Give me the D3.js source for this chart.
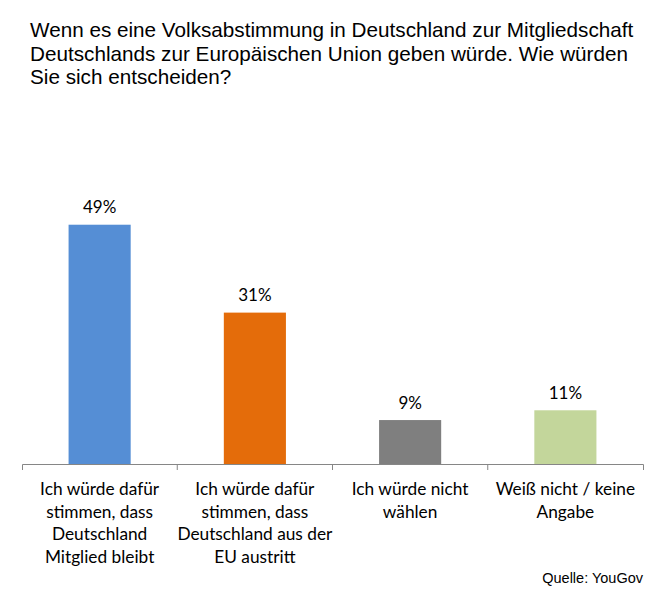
<!DOCTYPE html>
<html>
<head>
<meta charset="utf-8">
<script src="https://d3js.org/d3.v7.min.js"></script>
<style>
  body { margin: 0; background: #fff; }
</style>
</head>
<body>
<div id="output"></div>
<script>
    var width = 664;
    var height = 608;

    // data
    var categories = ['mitglied', 'austritt', 'nichtwaehlen', 'weissnicht'];
    var values = [49, 31, 9, 11];
    var valueLabels = ['49%', '31%', '9%', '11%'];
    var categoryLabels = [
        ['Ich würde dafür', 'stimmen, dass', 'Deutschland', 'Mitglied bleibt'],
        ['Ich würde dafür', 'stimmen, dass', 'Deutschland aus der', 'EU austritt'],
        ['Ich würde nicht', 'wählen'],
        ['Weiß nicht / keine', 'Angabe']
    ];
    var titleLines = [
        'Wenn es eine Volksabstimmung in Deutschland zur Mitgliedschaft',
        'Deutschlands zur Europäischen Union geben würde. Wie würden',
        'Sie sich entscheiden?'
    ];
    var sourceText = 'Quelle: YouGov';

    var colors = ['#558ed5', '#e46c0a', '#7f7f7f', '#c3d69b'];
    var axis_color = '#868686';
    var label_font = 'Lato, "Open Sans", sans-serif';
    var title_font = '"Liberation Sans", Arial, sans-serif';

    var svg = d3.select('#output').append('svg')
        .attr('width', width)
        .attr('height', height);

    var x = d3.scaleBand()
        .domain(categories)
        .range([22, 643])
        .paddingInner(0.6)
        .paddingOuter(0.3);

    var y = d3.scaleLinear()
        .domain([0, 60])
        .range([464, 171]);

    // title
    svg.append('text')
        .attr('font-family', title_font)
        .attr('font-size', 20.7)
        .attr('fill', '#000')
        .selectAll('tspan')
        .data(titleLines)
        .enter().append('tspan')
        .attr('x', 30)
        .attr('y', (d, i) => 37 + i * 23.5)
        .text(d => d);

    // bars
    svg.selectAll('rect.bar')
        .data(values)
        .enter().append('rect')
        .attr('class', 'bar')
        .attr('x', (d, i) => x(categories[i]))
        .attr('y', d => y(d))
        .attr('width', x.bandwidth())
        .attr('height', d => y(0) - y(d))
        .attr('fill', (d, i) => colors[i]);

    // value labels
    svg.selectAll('text.value')
        .data(values)
        .enter().append('text')
        .attr('class', 'value')
        .attr('x', (d, i) => x(categories[i]) + x.bandwidth() / 2)
        .attr('y', d => y(d) - 11.5)
        .attr('text-anchor', 'middle')
        .attr('font-family', label_font)
        .attr('font-size', 17)
        .attr('fill', '#000')
        .text((d, i) => valueLabels[i]);

    // x axis: line with ticks on category boundaries
    var axis = svg.append('g')
        .attr('transform', 'translate(0,' + y(0) + ')')
        .call(d3.axisBottom(x).tickSizeInner(0).tickSizeOuter(6).tickFormat(''));
    axis.select('.domain').attr('stroke', axis_color);
    axis.selectAll('.tick').remove();

    var bounds = d3.range(1, categories.length).map(i => x.range()[0] + i * x.step());
    axis.selectAll('line.sep')
        .data(bounds)
        .enter().append('line')
        .attr('class', 'sep')
        .attr('x1', d => d).attr('x2', d => d)
        .attr('y1', 0).attr('y2', 6)
        .attr('stroke', axis_color);

    // category labels
    svg.selectAll('text.cat')
        .data(categoryLabels)
        .enter().append('text')
        .attr('class', 'cat')
        .attr('text-anchor', 'middle')
        .attr('font-family', label_font)
        .attr('font-size', 17.3)
        .attr('fill', '#000')
        .each(function(lines, i) {
            var cx = x(categories[i]) + x.bandwidth() / 2;
            d3.select(this).selectAll('tspan')
                .data(lines)
                .enter().append('tspan')
                .attr('x', cx)
                .attr('y', (d, j) => 495 + j * 22.5)
                .text(d => d);
        });

    // source
    svg.append('text')
        .attr('x', 643)
        .attr('y', 583)
        .attr('text-anchor', 'end')
        .attr('font-family', title_font)
        .attr('font-size', 14.5)
        .attr('fill', '#000')
        .text(sourceText);
</script>
</body>
</html>
